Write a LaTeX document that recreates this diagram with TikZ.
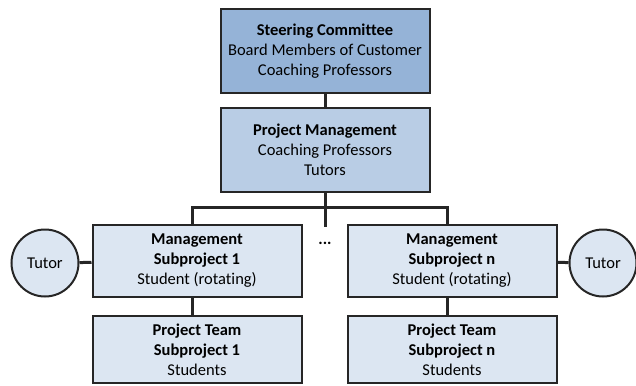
\documentclass[tikz,border=0pt]{standalone}
\usepackage{fontspec}
\setmainfont{Carlito}[Ligatures={NoCommon}]
\definecolor{steerblue}{HTML}{95B3D7}
\definecolor{pmblue}{HTML}{B9CDE5}
\definecolor{subblue}{HTML}{DCE6F2}
\begin{document}
\begin{tikzpicture}[x=1pt,y=-1pt,
		box/.style={draw=black!85,line width=2pt,align=center,minimum width=209pt,inner sep=0pt,font=\fontsize{16.5}{20}\selectfont},
		tutor/.style={circle,draw=black!85,line width=2pt,fill=subblue,minimum size=67pt,inner sep=0pt,font=\fontsize{16.5}{20}\selectfont},
		link/.style={line width=3pt,black!85}]
		\useasboundingbox (0,0) rectangle (636,385);
		% top of the hierarchy
		\node[box,fill=steerblue,minimum height=84pt] (steer) at (325,51) {\textbf{Steering Committee}\\Board Members of Customer\\Coaching Professors};
		\node[box,fill=pmblue,minimum height=84pt] (pm) at (325,150) {\textbf{Project Management}\\Coaching Professors\\Tutors};
		% subprojects
		\node[box,fill=subblue,minimum height=72pt] (mgmtA) at (197,261) {\textbf{Management}\\\textbf{Subproject 1}\\Student (rotating)};
		\node[box,fill=subblue,minimum height=67pt] (teamA) at (197,349.5) {\textbf{Project Team}\\\textbf{Subproject 1}\\Students};
		\node[box,fill=subblue,minimum height=72pt] (mgmtN) at (452,261) {\textbf{Management}\\\textbf{Subproject n}\\Student (rotating)};
		\node[box,fill=subblue,minimum height=67pt] (teamN) at (452,349.5) {\textbf{Project Team}\\\textbf{Subproject n}\\Students};
		\node[tutor] (tutorA) at (45,263) {Tutor};
		\node[tutor] (tutorN) at (603,263) {Tutor};
		\node[font=\fontsize{16.5}{20}\selectfont\bfseries,inner sep=0pt] (dots) at (325,243) {...};
		\coordinate (bus) at (325,207);
		\coordinate (stub) at (325,227);
		% connectors
		\draw[link] (steer) -- (pm);
		\draw[link] (pm.south) -- (stub);
		\draw[link] ([xshift=-5pt]mgmtA.north) -- ([xshift=-5pt]mgmtA.north |- bus) -- ([xshift=-5pt]mgmtN.north |- bus) -- ([xshift=-5pt]mgmtN.north);
		\draw[link] ([xshift=-5pt]mgmtA.south) -- ([xshift=-5pt]teamA.north);
		\draw[link] ([xshift=-5pt]mgmtN.south) -- ([xshift=-5pt]teamN.north);
		\draw[link] (tutorA) -- (mgmtA);
		\draw[link] (mgmtN) -- (tutorN);
	\end{tikzpicture}
\end{document}
